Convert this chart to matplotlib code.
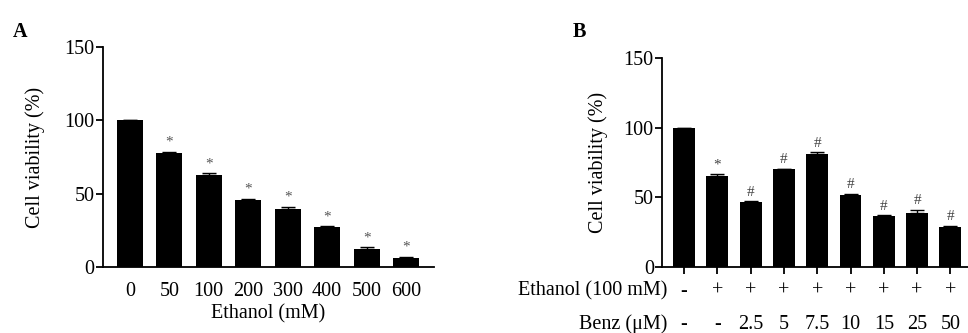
import matplotlib
matplotlib.use("Agg")
import matplotlib.pyplot as plt
import matplotlib.transforms as mtransforms

plt.rcParams['font.family'] = ['Liberation Serif', 'DejaVu Serif']
plt.rcParams['axes.linewidth'] = 1.3

# Panel A data
ethanol_doses = ["0", "50", "100", "200", "300", "400", "500", "600"]
viability_a = [100, 77.5, 63, 46, 39.5, 27, 12, 6.5]
err_a = [0, 1.0, 1.0, 0.5, 1.5, 0.7, 1.5, 0.5]
marks_a = ["", "*", "*", "*", "*", "*", "*", "*"]

# Panel B data
ethanol_row = ["-", "+", "+", "+", "+", "+", "+", "+", "+"]
benz_row = ["-", "-", "2.5", "5", "7.5", "10", "15", "25", "50"]
viability_b = [100, 65, 46.5, 70, 81, 52, 36.5, 39, 29]
err_b = [0, 1.5, 0.6, 0.6, 1.2, 0.5, 0.6, 2.0, 0.6]
marks_b = ["", "*", "#", "#", "#", "#", "#", "#", "#"]

fig = plt.figure(figsize=(9.68, 3.33), dpi=100)
FS = 14.5

def style(ax, pad):
    ax.spines['top'].set_visible(False)
    ax.spines['right'].set_visible(False)
    ax.set_ylim(0, 150)
    ax.set_yticks([0, 50, 100, 150])
    ax.tick_params(axis='y', labelsize=FS, length=5, width=1.3, pad=1)
    ax.set_ylabel("Cell viability (%)", fontsize=FS, labelpad=pad)

# ---- Panel A
axA = fig.add_axes([0.1064, 0.198, 0.3416, 0.661])
xa = list(range(len(viability_a)))
axA.bar(xa, viability_a, width=0.66, color='black')
axA.errorbar(xa, viability_a, yerr=[[0]*len(err_a), err_a], fmt='none',
             ecolor='black', elinewidth=1, capsize=5)
for x, v, e, m in zip(xa, viability_a, err_a, marks_a):
    if m:
        axA.text(x, v + e + 2, m, ha='center', va='bottom', fontsize=11, color='#555555')
axA.set_xlim(-0.68, 7.7)
style(axA, 14)
axA.set_xticks(xa)
axA.set_xticklabels(ethanol_doses)
axA.tick_params(axis='x', labelsize=FS, length=0, pad=11)
axA.set_xlabel("Ethanol (mM)", fontsize=FS, labelpad=2)
fig.text(0.013, 0.905, "A", fontsize=FS, fontweight='bold', ha='left', va='center')

# ---- Panel B
axB = fig.add_axes([0.684, 0.198, 0.316, 0.628])
xb = list(range(len(viability_b)))
axB.bar(xb, viability_b, width=0.66, color='black')
axB.errorbar(xb, viability_b, yerr=[[0]*len(err_b), err_b], fmt='none',
             ecolor='black', elinewidth=1, capsize=5)
for x, v, e, m in zip(xb, viability_b, err_b, marks_b):
    if m:
        axB.text(x, v + e + 2, m, ha='center', va='bottom', fontsize=11, color='#444444')
axB.set_xlim(-0.66, 8.53)
style(axB, 11)
axB.set_xticks(xb)
axB.set_xticklabels([])
axB.tick_params(axis='x', length=5, width=1.3, direction='out')
trans = mtransforms.blended_transform_factory(axB.transData, axB.transAxes)
y_eth = -0.115
y_benz = -0.275
axB.text(-0.5, y_eth, "Ethanol (100 mM)", transform=trans, ha='right', va='center', fontsize=FS)
axB.text(-0.5, y_benz, "Benz (\u03bcM)", transform=trans, ha='right', va='center', fontsize=FS)
for x, s1, s2 in zip(xb, ethanol_row, benz_row):
    axB.text(x, y_eth, s1, transform=trans, ha='center', va='center', fontsize=FS)
    axB.text(x, y_benz, s2, transform=trans, ha='center', va='center', fontsize=FS)
fig.text(0.592, 0.905, "B", fontsize=FS, fontweight='bold', ha='left', va='center')

fig.savefig("out.png", dpi=100)
